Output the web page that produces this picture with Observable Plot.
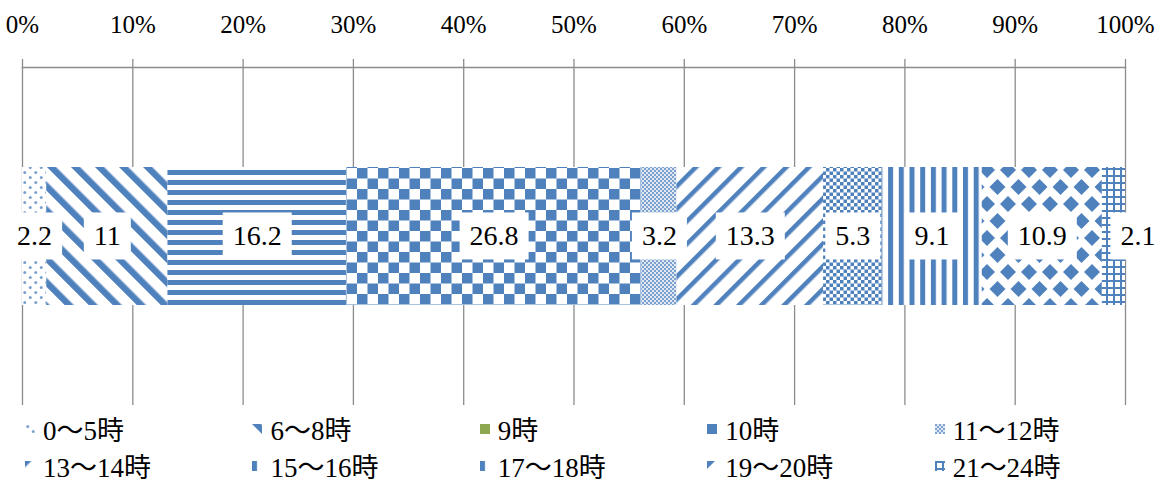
<!DOCTYPE html>
<html>
<head>
<meta charset="utf-8">
<script src="https://cdn.jsdelivr.net/npm/d3@7"></script>
<script src="https://cdn.jsdelivr.net/npm/@observablehq/plot@0.6"></script>
<style>
  html, body { margin: 0; padding: 0; background: #fff; }
  #chart { position: relative; width: 1162px; height: 484px; overflow: hidden; }
  #legend { position: absolute; left: 0; top: 410px; width: 1162px; }
  .lrow { display: flex; height: 37px; align-items: center; padding-left: 25px; }
  .litem { width: 238px; display: flex; align-items: center; font-family: "Liberation Serif", "Noto Sans CJK JP", serif; font-size: 27px; color: #000; white-space: nowrap; }
  .litem svg { margin-right: 8px; flex: none; }
</style>
</head>
<body>
<svg width="0" height="0" style="position:absolute">
  <defs>
    <pattern id="pat0" patternUnits="userSpaceOnUse" width="11" height="10">
      <rect width="11" height="10" fill="#fff"/>
      <circle cx="2.75" cy="2.5" r="1.5" fill="#4F81BD" fill-opacity="0.75"/>
      <circle cx="8.25" cy="7.5" r="1.5" fill="#4F81BD" fill-opacity="0.75"/>
    </pattern>
    <pattern id="pat1" patternUnits="userSpaceOnUse" width="17" height="10" patternTransform="rotate(-45)">
      <rect width="17" height="10" fill="#fff"/>
      <rect width="6.5" height="10" fill="#4F81BD"/>
    </pattern>
    <pattern id="pat2" patternUnits="userSpaceOnUse" width="10" height="10">
      <rect width="10" height="10" fill="#fff"/>
      <rect width="10" height="5" fill="#4F81BD"/>
    </pattern>
    <pattern id="pat3" patternUnits="userSpaceOnUse" width="21" height="21">
      <rect width="21" height="21" fill="#fff"/>
      <rect width="10.5" height="10.5" fill="#4F81BD"/>
      <rect x="10.5" y="10.5" width="10.5" height="10.5" fill="#4F81BD"/>
    </pattern>
    <pattern id="pat4" patternUnits="userSpaceOnUse" width="4" height="4">
      <rect width="4" height="4" fill="#dfe7f2"/>
      <rect width="2" height="2" fill="#7ea2cf"/>
      <rect x="2" y="2" width="2" height="2" fill="#7ea2cf"/>
    </pattern>
    <pattern id="pat5" patternUnits="userSpaceOnUse" width="16" height="10" patternTransform="rotate(45)">
      <rect width="16" height="10" fill="#fff"/>
      <rect width="4.5" height="10" fill="#4F81BD"/>
    </pattern>
    <pattern id="pat6" patternUnits="userSpaceOnUse" width="7" height="7">
      <rect width="7" height="7" fill="#fff"/>
      <rect width="3.5" height="3.5" fill="#4F81BD"/>
      <rect x="3.5" y="3.5" width="3.5" height="3.5" fill="#4F81BD"/>
    </pattern>
    <pattern id="pat7" patternUnits="userSpaceOnUse" width="10.7" height="10">
      <rect width="10.7" height="10" fill="#fff"/>
      <rect width="5" height="10" fill="#4F81BD"/>
    </pattern>
    <pattern id="pat8" patternUnits="userSpaceOnUse" width="21" height="34">
      <rect width="21" height="34" fill="#fff"/>
      <path d="M0,-8L8,0L0,8L-8,0Z M21,-8L29,0L21,8L13,0Z M10.5,9L18.5,17L10.5,25L2.5,17Z M0,26L8,34L0,42L-8,34Z M21,26L29,34L21,42L13,34Z" fill="#4F81BD"/>
    </pattern>
    <pattern id="pat9" patternUnits="userSpaceOnUse" width="7" height="7">
      <rect width="7" height="7" fill="#fff"/>
      <rect width="7" height="2" fill="#4F81BD"/>
      <rect width="2" height="7" fill="#4F81BD"/>
    </pattern>
  </defs>
</svg>
<div id="chart"></div>
<script>
// ---- data ----
const categories = ["0〜5時", "6〜8時", "9時", "10時", "11〜12時", "13〜14時", "15〜16時", "17〜18時", "19〜20時", "21〜24時"];
const values = [2.2, 11, 16.2, 26.8, 3.2, 13.3, 5.3, 9.1, 10.9, 2.1];
const tickValues = [0, 10, 20, 30, 40, 50, 60, 70, 80, 90, 100];
const tickLabels = ["0%", "10%", "20%", "30%", "40%", "50%", "60%", "70%", "80%", "90%", "100%"];
const legendSwatch = ["url(#pat0)", "url(#pat1)", "#8DA650", "url(#pat3)", "url(#pat4)", "url(#pat5)", "url(#pat7)", "url(#pat7)", "url(#pat8)", "url(#pat9)"];

// ---- build ----
const rows = categories.map((c, i) => ({cat: c, value: values[i], row: "all", idx: i}));
const patterns = categories.map((c, i) => `url(#pat${i})`);
const lastIdx = categories.length - 1;
const serif = "'Liberation Serif', 'Noto Sans CJK JP', serif";
const gray = "#8c8c8c";
const ticks = tickValues.map(v => v / 100);

const chart = Plot.plot({
  width: 1162,
  height: 410,
  marginLeft: 22,
  marginRight: 37,
  marginTop: 67,
  marginBottom: 5,
  style: {background: "#fff", overflow: "visible"},
  x: {domain: [0, 1], axis: null, label: null},
  y: {domain: ["all"], axis: null, paddingInner: 0, paddingOuter: 0.7246},
  color: {domain: categories, range: patterns},
  marks: [
    Plot.gridX(ticks, {stroke: gray, strokeOpacity: 1, strokeWidth: 1.3}),
    Plot.axisX(ticks, {
      anchor: "top", label: null, tickSize: 9, tickPadding: 26, stroke: gray, strokeWidth: 1.3,
      tickFormat: (d, i) => tickLabels[i], fontSize: 25, fontFamily: serif, fill: "#000"
    }),
    Plot.frame({anchor: "top", stroke: gray, strokeWidth: 1.3}),
    Plot.barX(rows, Plot.stackX({x: "value", y: "row", fill: "cat", offset: "normalize"})),
    Plot.text(rows, Plot.stackX({
      x: "value", y: "row", offset: "normalize",
      text: d => d.idx === lastIdx ? "" : String(d.value),
      fontSize: 28, fontFamily: serif, fill: "#000", className: "seglabel"
    })),
    Plot.text(rows, Plot.stackX({
      x: "value", y: "row", offset: "normalize",
      text: d => d.idx === lastIdx ? String(d.value) : "",
      dx: 24,
      fontSize: 28, fontFamily: serif, fill: "#000", className: "seglabel"
    }))
  ]
});

const host = document.getElementById("chart");
host.appendChild(chart);

// white boxes behind data labels
chart.querySelectorAll(".seglabel text").forEach(t => {
  if (!t.textContent) return;
  const b = t.getBBox();
  const padX = 10, h = 47;
  const r = document.createElementNS("http://www.w3.org/2000/svg", "rect");
  r.setAttribute("x", b.x - padX);
  r.setAttribute("y", b.y + b.height / 2 - h / 2);
  r.setAttribute("width", b.width + 2 * padX);
  r.setAttribute("height", h);
  r.setAttribute("fill", "#fff");
  r.setAttribute("stroke", "none");
  const tr = t.getAttribute("transform");
  if (tr) r.setAttribute("transform", tr);
  t.parentNode.insertBefore(r, t);
});

// legend
const legend = document.createElement("div");
legend.id = "legend";
for (let r = 0; r < 2; r++) {
  const row = document.createElement("div");
  row.className = "lrow";
  for (let c = 0; c < 5; c++) {
    const i = r * 5 + c;
    const item = document.createElement("div");
    item.className = "litem";
    item.innerHTML = `<svg width="10" height="10"><rect width="10" height="10" fill="${legendSwatch[i]}"/></svg><span>${categories[i]}</span>`;
    row.appendChild(item);
  }
  legend.appendChild(row);
}
host.appendChild(legend);
</script>
</body>
</html>
